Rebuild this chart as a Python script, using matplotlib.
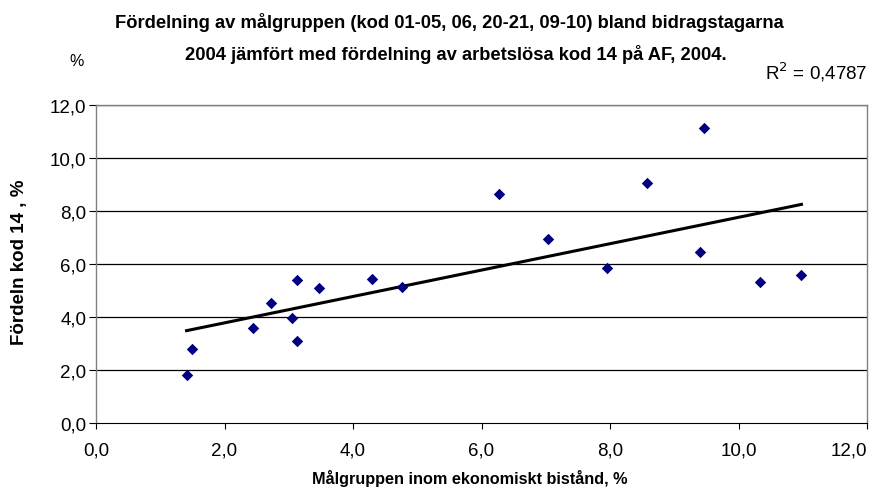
import matplotlib
matplotlib.use("Agg")
import matplotlib.pyplot as plt
import numpy as np

plt.rcParams['font.family'] = ['Liberation Sans', 'DejaVu Sans']

x_vals = [1.41, 1.50, 2.45, 2.72, 3.05, 3.13, 3.13, 3.47, 4.30, 4.76,
          6.27, 7.03, 7.95, 8.57, 9.47, 9.40, 10.33, 10.98]
y_vals = [1.82, 2.80, 3.57, 4.52, 3.95, 3.08, 5.40, 5.10, 5.45, 5.13,
          8.65, 6.95, 5.85, 9.07, 11.15, 6.45, 5.32, 5.58]
ticks = [0, 2, 4, 6, 8, 10, 12]
tick_labels = ['0,0', '2,0', '4,0', '6,0', '8,0', '10,0', '12,0']

title1 = "Fördelning av målgruppen (kod 01-05, 06, 20-21, 09-10) bland bidragstagarna"
title2 = "2004 jämfört med fördelning av arbetslösa kod 14 på AF, 2004."
xlabel = "Målgruppen inom ekonomiskt bistånd, %"
ylabel = "Fördeln kod 14 , %"
r2_text = "R$^2$ = 0,4787"

W, H = 869, 489
fig = plt.figure(figsize=(W / 100, H / 100), dpi=100)
ax = fig.add_axes([96 / W, 1 - 424 / H, (867 - 96) / W, (424 - 106) / H])

ax.set_xlim(0, 12)
ax.set_ylim(0, 12)
ax.set_xticks(ticks)
ax.set_xticklabels(tick_labels, fontsize=13.5)
ax.get_xticklabels()[-1].set_horizontalalignment('right')
ax.set_yticks(ticks)
ax.set_yticklabels(tick_labels, fontsize=13.5)

for t in ticks[1:]:
    ax.axhline(t, color='#000000', lw=0.9, zorder=1)

x = np.array(x_vals)
y = np.array(y_vals)
m, b = np.polyfit(x, y, 1)
xs = np.array([x.min(), x.max()])
ax.plot(xs, m * xs + b, color='black', lw=2.2, zorder=2)

ax.scatter(x, y, marker='D', s=34, color='#000080', zorder=3, linewidths=0)

for s in ['top', 'right', 'left']:
    ax.spines[s].set_color('#808080')
    ax.spines[s].set_linewidth(1.0)
ax.spines['bottom'].set_color('black')
ax.tick_params(axis='x', direction='out', length=4, width=0.8, colors='black', pad=9)
ax.tick_params(axis='y', direction='out', length=5, width=0.8, colors='black', pad=2)

fig.text(470 / W, 1 - 479 / H, xlabel, ha='center', va='center', fontsize=11.7,
         fontweight='bold')
fig.text(20 / W, 1 - 262 / H, ylabel, ha='center', va='center', fontsize=13.5,
         fontweight='bold', rotation=90)

fig.text(449 / W, 1 - 22 / H, title1, ha='center', va='center', fontsize=13.2,
         fontweight='bold')
fig.text(456 / W, 1 - 55 / H, title2, ha='center', va='center', fontsize=13.2,
         fontweight='bold')
fig.text(77 / W, 1 - 62 / H, '%', ha='center', va='center', fontsize=11.5)
fig.text(867 / W, 1 - 72 / H, r2_text, ha='right', va='center', fontsize=13.5)

fig.savefig('out.png', dpi=100)
